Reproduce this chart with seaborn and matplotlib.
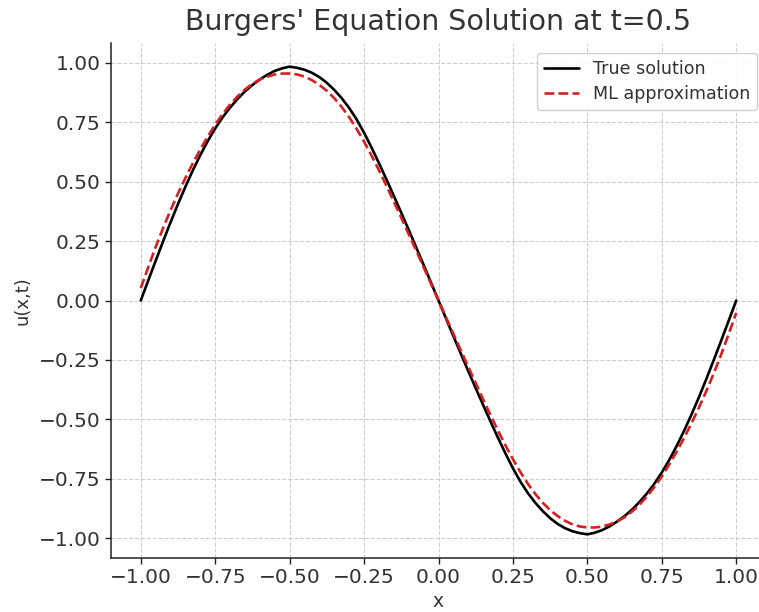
import numpy as np
import pandas as pd
import matplotlib
matplotlib.use("Agg")
import matplotlib.pyplot as plt
import seaborn as sns

# Spatial grid (x in [-1, 1], step 0.025)
x_vals = [-1.000, -0.975, -0.950, -0.925, -0.900, -0.875, -0.850, -0.825, -0.800, -0.775,
          -0.750, -0.725, -0.700, -0.675, -0.650, -0.625, -0.600, -0.575, -0.550, -0.525,
          -0.500, -0.475, -0.450, -0.425, -0.400, -0.375, -0.350, -0.325, -0.300, -0.275,
          -0.250, -0.225, -0.200, -0.175, -0.150, -0.125, -0.100, -0.075, -0.050, -0.025,
          0.000, 0.025, 0.050, 0.075, 0.100, 0.125, 0.150, 0.175, 0.200, 0.225,
          0.250, 0.275, 0.300, 0.325, 0.350, 0.375, 0.400, 0.425, 0.450, 0.475,
          0.500, 0.525, 0.550, 0.575, 0.600, 0.625, 0.650, 0.675, 0.700, 0.725,
          0.750, 0.775, 0.800, 0.825, 0.850, 0.875, 0.900, 0.925, 0.950, 0.975, 1.000]

# Reference solution u(x, t=0.5)
u_true = [0.000, 0.084, 0.167, 0.249, 0.329, 0.406, 0.479, 0.548, 0.612, 0.671,
          0.724, 0.771, 0.812, 0.848, 0.880, 0.907, 0.930, 0.950, 0.966, 0.977,
          0.984, 0.979, 0.971, 0.958, 0.940, 0.916, 0.886, 0.851, 0.810, 0.762,
          0.706, 0.644, 0.578, 0.510, 0.440, 0.369, 0.297, 0.224, 0.150, 0.075,
          0.000, -0.075, -0.150, -0.224, -0.297, -0.369, -0.440, -0.510, -0.578, -0.644,
          -0.706, -0.762, -0.810, -0.851, -0.886, -0.916, -0.940, -0.958, -0.971, -0.979,
          -0.984, -0.977, -0.966, -0.950, -0.930, -0.907, -0.880, -0.848, -0.812, -0.771,
          -0.724, -0.671, -0.612, -0.548, -0.479, -0.406, -0.329, -0.249, -0.167, -0.084, 0.000]

# Network prediction at the same points
u_ml = [0.052, 0.140, 0.225, 0.305, 0.380, 0.450, 0.516, 0.578, 0.636, 0.690,
        0.740, 0.785, 0.825, 0.859, 0.888, 0.912, 0.930, 0.942, 0.951, 0.955,
        0.955, 0.951, 0.942, 0.927, 0.907, 0.882, 0.851, 0.814, 0.771, 0.722,
        0.668, 0.610, 0.548, 0.483, 0.416, 0.348, 0.279, 0.210, 0.140, 0.070,
        0.000, -0.070, -0.140, -0.210, -0.279, -0.348, -0.416, -0.483, -0.548, -0.610,
        -0.668, -0.722, -0.771, -0.814, -0.851, -0.882, -0.907, -0.927, -0.942, -0.951,
        -0.955, -0.955, -0.951, -0.942, -0.930, -0.912, -0.888, -0.859, -0.825, -0.785,
        -0.740, -0.690, -0.636, -0.578, -0.516, -0.450, -0.380, -0.305, -0.225, -0.140, -0.052]

labels = ["True solution", "ML approximation"]
tick_vals = [-1.00, -0.75, -0.50, -0.25, 0.00, 0.25, 0.50, 0.75, 1.00]
title = "Burgers' Equation Solution at t=0.5"

df = pd.DataFrame({
    "x": x_vals * 2,
    "u": u_true + u_ml,
    "series": [labels[0]] * len(x_vals) + [labels[1]] * len(x_vals),
})

sns.set_theme(style="whitegrid")
text_color = "#333333"
plt.rcParams.update({
    "font.family": ["DejaVu Sans"],
    "grid.linestyle": "--",
    "grid.color": "#cfcfcf",
    "grid.linewidth": 0.8,
    "axes.edgecolor": "#222222",
    "axes.linewidth": 1.1,
    "text.color": text_color,
    "axes.labelcolor": text_color,
    "xtick.color": "#222222",
    "ytick.color": "#222222",
    "xtick.labelcolor": text_color,
    "ytick.labelcolor": text_color,
})

fig = plt.figure(figsize=(7.59, 6.12), dpi=100)
ax = fig.add_axes([111 / 759, 54 / 612, 655 / 759, 515 / 612])

sns.lineplot(data=df, x="x", y="u", hue="series", style="series",
             palette={labels[0]: "black", labels[1]: "#d62020"},
             dashes={labels[0]: "", labels[1]: (3.7, 1.6)},
             linewidth=1.9, ax=ax, sort=False, estimator=None)

tick_text = [f"{v:.2f}".replace("-", "\u2212") for v in tick_vals]
ax.set_xticks(tick_vals)
ax.set_yticks(tick_vals)
ax.set_xticklabels(tick_text)
ax.set_yticklabels(tick_text)
ax.tick_params(axis="both", which="major", direction="out", length=4.5, width=1.0,
               labelsize=14.5, bottom=True, left=True, pad=3)
ax.set_xlim(-1.1, 1.1)
ax.set_ylim(-1.0835, 1.0835)

sns.despine(ax=ax, top=True, right=True)
for side in ("left", "bottom"):
    ax.spines[side].set_color("#222222")
    ax.spines[side].set_linewidth(1.1)

ax.set_title(title, fontsize=20.5, color=text_color, pad=9)
ax.set_xlabel("x", fontsize=13.5, labelpad=3)
ax.set_ylabel("u(x,t)", fontsize=13, labelpad=5)

leg = ax.legend(loc="upper right", fontsize=12.6, frameon=True, fancybox=True,
                framealpha=0.9, edgecolor="#cccccc", borderpad=0.4,
                borderaxespad=0.0, handlelength=2.0, labelspacing=0.4,
                bbox_to_anchor=(0.9863, 0.9806))
for t in leg.get_texts():
    t.set_color(text_color)

fig.savefig("out.png", dpi=100)
